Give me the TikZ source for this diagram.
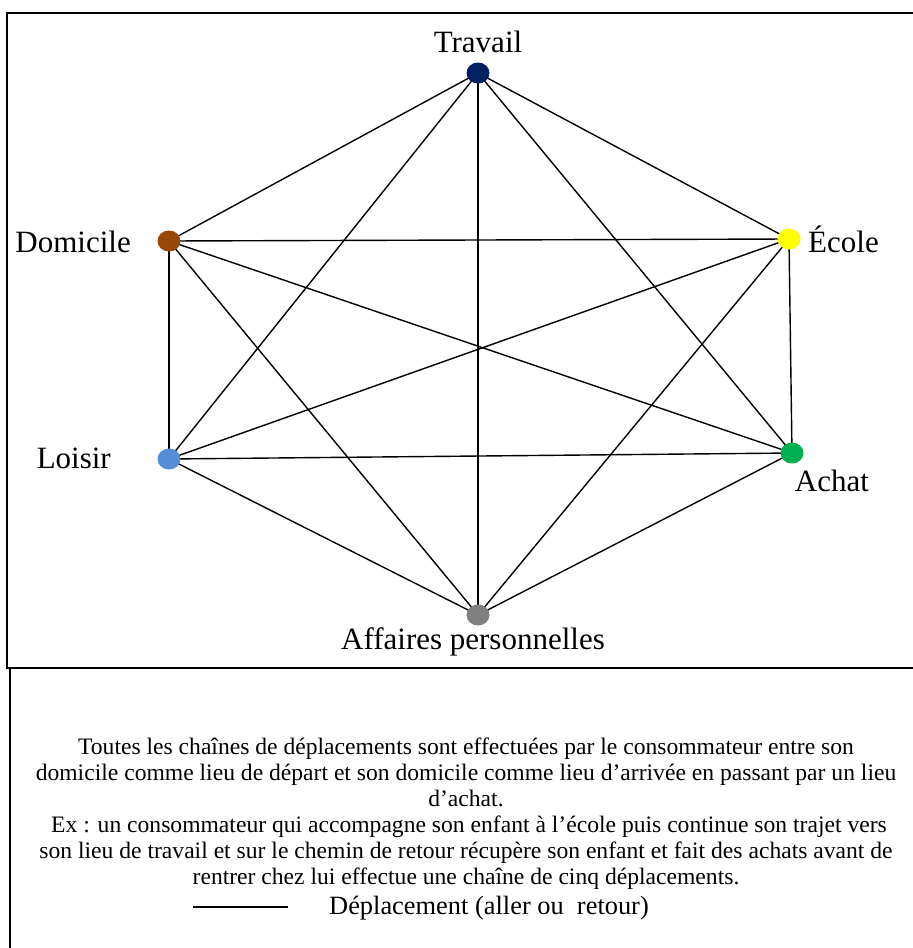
\documentclass[tikz,border=0pt]{standalone}
\usepackage{fontspec}
\setmainfont{Liberation Serif}
\usetikzlibrary{shapes.geometric}
\definecolor{cTravail}{HTML}{002060}
\definecolor{cDomicile}{HTML}{984806}
\definecolor{cEcole}{HTML}{FFFF00}
\definecolor{cLoisir}{HTML}{558ED5}
\definecolor{cAchat}{HTML}{00B050}
\definecolor{cAffaires}{HTML}{808080}
\begin{document}
\begin{tikzpicture}[x=1pt,y=-1pt,
  lieu/.style={ellipse,minimum width=23pt,minimum height=21pt,inner sep=0pt,draw=none},
  lab/.style={inner sep=0pt,font=\fontsize{31}{35}\selectfont},
  edge/.style={line width=1.4pt,black},
  frame/.style={line width=1.6pt,black},
  body/.style={inner sep=0pt,align=center,font=\fontsize{23.6}{26}\selectfont}]
\useasboundingbox (0,0) rectangle (913,948);
\begin{scope}
\clip (0,0) rectangle (913,948);
\draw[frame] (7,13) rectangle (930,668);
\draw[frame] (10,668) rectangle (930,970);
\end{scope}
% places (coordinates first, edges, then filled ellipses on top)
\coordinate (cT) at (478,73);
\coordinate (cD) at (169,241);
\coordinate (cE) at (789,239);
\coordinate (cL) at (169,459);
\coordinate (cA) at (792,453);
\coordinate (cP) at (478,615);
\foreach \a/\b in {T/D,T/E,T/L,T/A,T/P,D/E,D/L,D/A,D/P,E/L,E/A,E/P,L/A,L/P,A/P}
  \draw[edge] (c\a) -- (c\b);
\node[lieu,fill=cTravail] (T) at (cT) {};
\node[lieu,fill=cDomicile] (D) at (cD) {};
\node[lieu,fill=cEcole] (E) at (cE) {};
\node[lieu,fill=cLoisir] (L) at (cL) {};
\node[lieu,fill=cAchat] (A) at (cA) {};
\node[lieu,fill=cAffaires] (P) at (cP) {};
% labels
\node[lab] (lT) at (478,42) {Travail};
\node[lab,anchor=east] (lD) at (131,242) {Domicile};
\node[lab,anchor=west] (lE) at (808,239) {École};
\node[lab,anchor=east] (lL) at (111,458) {Loisir};
\node[lab] (lA) at (832,481) {Achat};
\node[lab] (lP) at (473,642) {Affaires personnelles};
% explanatory text
\node[body,anchor=north] (txt) at (466,738) {Toutes les chaînes de déplacements sont effectuées par le consommateur entre son\\
domicile comme lieu de départ et son domicile comme lieu d’arrivée en passant par un lieu\\
d’achat.\\
\ Ex : un consommateur qui accompagne son enfant à l’école puis continue son trajet vers\\
son lieu de travail et sur le chemin de retour récupère son enfant et fait des achats avant de\\
rentrer chez lui effectue une chaîne de cinq déplacements.};
% legend
\coordinate (g1) at (193,907);
\coordinate (g2) at (288,907);
\draw[edge] (g1) -- (g2);
\node[body,anchor=west,font=\fontsize{26.4}{29}\selectfont] (leg) at (329,908) {Déplacement (aller ou\ \ retour)};
\end{tikzpicture}
\end{document}
